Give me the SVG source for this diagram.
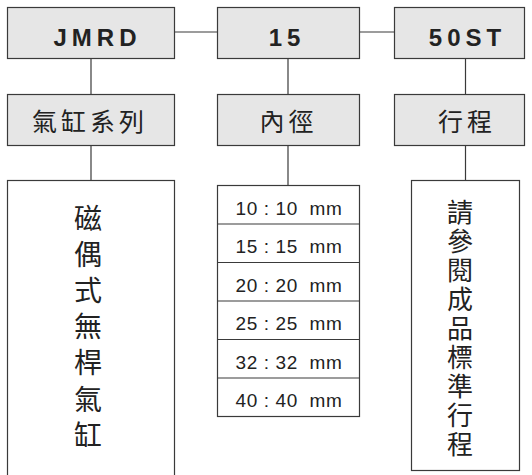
<svg xmlns="http://www.w3.org/2000/svg" width="532" height="475" viewBox="0 0 532 475">
<style>
.box{fill:#e6e6e6;stroke:#3a3a3a;stroke-width:1.2}
.wbox{fill:#ffffff;stroke:#3a3a3a;stroke-width:1.2}
.ln{stroke:#3a3a3a;stroke-width:1.2;fill:none}
.code{font-family:"Liberation Sans",Arial,sans-serif;font-weight:bold;font-size:24px;letter-spacing:5px;fill:#222;text-anchor:middle}
.lbl{font-family:"Noto Sans CJK TC","Noto Sans CJK SC",sans-serif;font-size:25px;letter-spacing:4px;fill:#222;text-anchor:middle}
.vt{font-family:"Noto Sans CJK TC","Noto Sans CJK SC",sans-serif;fill:#222;writing-mode:vertical-rl;text-anchor:start}
.mm{font-family:"Liberation Sans",Arial,sans-serif;font-size:19px;letter-spacing:0.6px;fill:#222;text-anchor:middle}
</style>
<rect width="532" height="475" fill="#ffffff"/>
<g id="connectors">
<line class="ln" x1="174.5" y1="32" x2="217.5" y2="32"/>
<line class="ln" x1="359.5" y1="32" x2="394.5" y2="32"/>
<line class="ln" x1="91" y1="58.5" x2="91" y2="94.5"/>
<line class="ln" x1="91" y1="145.5" x2="91" y2="180.5"/>
<line class="ln" x1="288" y1="58.5" x2="288" y2="94.5"/>
<line class="ln" x1="288" y1="145.5" x2="288" y2="185.5"/>
<line class="ln" x1="465.5" y1="58.5" x2="465.5" y2="94.5"/>
<line class="ln" x1="465.5" y1="145.5" x2="465.5" y2="180.5"/>
</g>
<g id="n-jmrd">
<rect class="box" x="7.5" y="7.5" width="167" height="51"/>
<text class="code" x="97.5" y="46">JMRD</text>
</g>
<g id="n-15">
<rect class="box" x="217.5" y="7.5" width="142" height="51"/>
<text class="code" x="287" y="46">15</text>
</g>
<g id="n-50st">
<rect class="box" x="394.5" y="7.5" width="130" height="51"/>
<text class="code" x="467.5" y="46">50ST</text>
</g>
<g id="n-series">
<rect class="box" x="7.5" y="94.5" width="167" height="51"/>
<text class="lbl" x="90" y="131">氣缸系列</text>
</g>
<g id="n-bore">
<rect class="box" x="217.5" y="94.5" width="142" height="51"/>
<text class="lbl" x="288.5" y="131">內徑</text>
</g>
<g id="n-stroke">
<rect class="box" x="394.5" y="94.5" width="130" height="51"/>
<text class="lbl" x="467" y="131">行程</text>
</g>
<g id="n-type">
<rect class="wbox" x="7.5" y="180.5" width="167" height="310"/>
<text class="vt" style="font-size:28px;letter-spacing:8.2px" x="88" y="204">磁偶式無桿氣缸</text>
</g>
<g id="n-bores">
<rect class="wbox" x="217.5" y="185.5" width="142" height="231"/>
<line class="ln" x1="217.5" y1="224" x2="359.5" y2="224"/>
<line class="ln" x1="217.5" y1="262.5" x2="359.5" y2="262.5"/>
<line class="ln" x1="217.5" y1="301" x2="359.5" y2="301"/>
<line class="ln" x1="217.5" y1="339.5" x2="359.5" y2="339.5"/>
<line class="ln" x1="217.5" y1="378" x2="359.5" y2="378"/>
<text class="mm" x="289" y="214.5" xml:space="preserve">10 : 10  mm</text>
<text class="mm" x="289" y="253" xml:space="preserve">15 : 15  mm</text>
<text class="mm" x="289" y="291.5" xml:space="preserve">20 : 20  mm</text>
<text class="mm" x="289" y="330" xml:space="preserve">25 : 25  mm</text>
<text class="mm" x="289" y="368.5" xml:space="preserve">32 : 32  mm</text>
<text class="mm" x="289" y="407" xml:space="preserve">40 : 40  mm</text>
</g>
<g id="n-std">
<rect class="wbox" x="411.5" y="180.5" width="108" height="290"/>
<text class="vt" style="font-size:26px;letter-spacing:3px" x="460" y="199.5">請參閱成品標準行程</text>
</g>
</svg>
